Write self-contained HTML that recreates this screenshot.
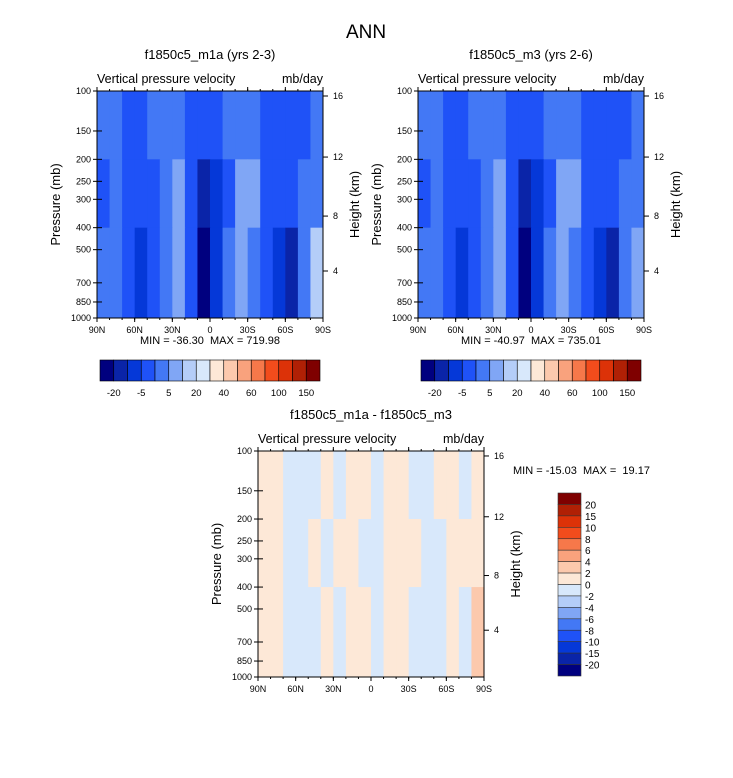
<!DOCTYPE html>
<html><head><meta charset="utf-8">
<style>
body{margin:0;background:#fff;font-family:"Liberation Sans",sans-serif;}
svg text{font-family:"Liberation Sans",sans-serif;fill:#000;white-space:pre;}
</style></head>
<body>
<svg id="s" width="733" height="773" viewBox="0 0 733 773" xmlns="http://www.w3.org/2000/svg">
<text x="366" y="38" font-size="19" text-anchor="middle">ANN</text>
</svg>
<script>
const latLabels=["90N","60N","30N","0","30S","60S","90S"];
const presTicks=[100,150,200,250,300,400,500,700,850,1000];
const heightTicks=["16","12","8","4"];
const heightFrac=[0.022,0.291,0.551,0.793];
const absLevels=["-20","-5","5","20","40","60","100","150"];
const diffLevels=["20","15","10","8","6","4","2","0","-2","-4","-6","-8","-10","-15","-20"];
// field level indices per 10-degree latitude band (90N->90S), for upper(100-200), mid(200-400), lower(400-1000)
const m1aUpper=[4,4,3,3,4,4,4,3,3,3,4,4,4,3,3,3,3,4];
const m1aMid  =[3,4,3,3,3,4,5,3,1,2,3,5,5,3,3,3,4,4];
const m1aLower=[4,4,3,2,3,4,5,3,0,2,4,5,4,3,2,1,4,6];
const m3Upper=[4,4,3,3,4,4,4,3,3,3,4,4,4,3,3,3,3,4];
const m3Mid  =[3,4,3,3,3,4,5,3,1,2,3,5,5,3,3,3,4,4];
const m3Lower=[4,4,3,2,3,4,5,3,0,2,4,5,4,3,2,1,4,5];
const diffUpper=[8,8,7,7,7,8,7,8,8,7,8,8,7,7,8,8,7,8];
const diffMid  =[8,8,7,7,8,7,8,8,7,7,8,8,8,7,7,8,8,8];
const diffLower=[8,8,7,7,7,8,7,8,8,7,8,8,7,7,7,8,7,9];
const absColors=["#00007f","#0a24a8","#0538d8","#1f52f7","#4378f5","#80a6f5","#b4cdf8","#d8e8fb","#fde8d7","#fcc9ad","#f9a27d","#f6784a","#f24c1c","#dc3208","#b02005","#7f0000"];
const diffColors=["#00007f","#0a24a8","#0538d8","#1f52f7","#4378f5","#80a6f5","#b4cdf8","#d8e8fb","#fde8d7","#fcc9ad","#f9a27d","#f6784a","#f24c1c","#dc3208","#b02005","#7f0000"];
const NS="http://www.w3.org/2000/svg";
const svg=document.getElementById('s');
function el(t,a,p){const e=document.createElementNS(NS,t);for(const k in a)e.setAttribute(k,a[k]);(p||svg).appendChild(e);return e;}
function txt(x,y,s,size,anchor,p){const t=el('text',{x:x,y:y,'font-size':size,'text-anchor':anchor||'start'},p);t.textContent=s;return t;}
function panel(name,X,Y,W,H,title,upper,mid,lower,colors){
  const g=el('g',{});
  
  
  const yP=p=>Y+Math.log10(p/100)*H;
  const xL=i=>X+i*W/upper.length;
  const bands=[[100,200,upper],[200,400,mid],[400,1000,lower]];
  for(const [p0,p1,arr] of bands){
    for(let i=0;i<arr.length;i++){
      const r=el('rect',{x:xL(i),y:yP(p0),width:W/arr.length+0.5,height:yP(p1)-yP(p0)+0.5,fill:colors[arr[i]]},g);
      
      
    }
  }
  el('rect',{x:X,y:Y,width:W,height:H,fill:'none',stroke:'#000','stroke-width':1},g);
  txt(X+W/2,Y-32,title,13,'middle',g);
  txt(X,Y-8,'Vertical pressure velocity',12.5,'start',g);
  txt(X+W,Y-8,'mb/day',12.5,'end',g);
  for(const p of presTicks){const y=yP(p);el('line',{x1:X,x2:X+5,y1:y,y2:y,stroke:'#000'},g);el('line',{x1:X-4,x2:X,y1:y,y2:y,stroke:'#000'},g);
    txt(X-6,y+3,String(p),9,'end',g);}
  latLabels.forEach((l,i)=>{const x=X+i*W/6;el('line',{x1:x,x2:x,y1:Y+H,y2:Y+H+4,stroke:'#000'},g);el('line',{x1:x,x2:x,y1:Y,y2:Y-4,stroke:'#000'},g);
    txt(x,Y+H+15,l,9,'middle',g);});
  for(let i=0;i<=18;i++){const x=X+i*W/18;el('line',{x1:x,x2:x,y1:Y+H,y2:Y+H+2,stroke:'#000'},g);el('line',{x1:x,x2:x,y1:Y,y2:Y-2,stroke:'#000'},g);}
  heightTicks.forEach((h,i)=>{const y=Y+heightFrac[i]*H;el('line',{x1:X+W,x2:X+W+5,y1:y,y2:y,stroke:'#000'},g);
    txt(X+W+10,y+3,h,9,'start',g);});
  const yt=txt(0,0,'Pressure (mb)',13,'middle',g);yt.setAttribute('transform',`translate(${X-37},${Y+H/2}) rotate(-90)`);
  const ht=txt(0,0,'Height (km)',13,'middle',g);ht.setAttribute('transform',`translate(${X+W+36},${Y+H/2}) rotate(-90)`);
  return g;
}
function hbar(name,X,Y,W,H){
  const g=el('g',{});
  const bw=W/absColors.length;
  absColors.forEach((c,i)=>{el('rect',{x:X+i*bw,y:Y,width:bw,height:H,fill:c,stroke:'#000','stroke-width':0.6},g);});
  absLevels.forEach((l,i)=>{txt(X+(2*i+1)*bw,Y+H+15,l,9.5,'middle',g);});
}
panel('panel-m1a',97,91,226,227,'f1850c5_m1a (yrs 2-3)',m1aUpper,m1aMid,m1aLower,absColors);
txt(210,344,'MIN = -36.30  MAX = 719.98',11,'middle');
hbar('colorbar-m1a',100,360,220,21);
panel('panel-m3',418,91,226,227,'f1850c5_m3 (yrs 2-6)',m3Upper,m3Mid,m3Lower,absColors);
txt(531,344,'MIN = -40.97  MAX = 735.01',11,'middle');
hbar('colorbar-m3',421,360,220,21);
panel('panel-diff',258,451,226,226,'f1850c5_m1a - f1850c5_m3',diffUpper,diffMid,diffLower,diffColors);
txt(513,474,'MIN = -15.03  MAX =  19.17',11,'start');
const vg=el('g',{});
const vb=(676-493)/diffColors.length;
diffColors.slice().reverse().forEach((c,i)=>{el('rect',{x:558,y:493+i*vb,width:23,height:vb,fill:c,stroke:'#333','stroke-width':0.6},vg);});
diffLevels.forEach((l,i)=>{txt(585,493+(i+1)*vb+4,l,10,'start',vg);});
</script>
</body></html>
